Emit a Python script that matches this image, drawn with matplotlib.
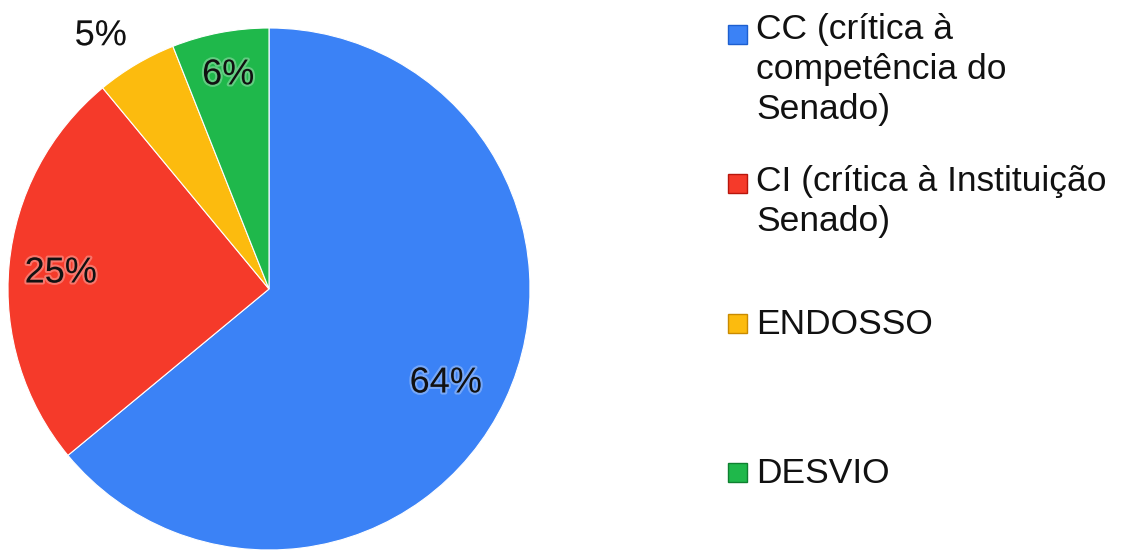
import matplotlib
matplotlib.use("Agg")
import numpy as np
import matplotlib.pyplot as plt
from matplotlib.patches import Rectangle
import matplotlib.patheffects as pe

plt.rcParams['font.family'] = ['Liberation Sans', 'DejaVu Sans']

#%% data
categorias = ['CC (crítica à\ncompetência do\nSenado)',
              'CI (crítica à Instituição\nSenado)',
              'ENDOSSO',
              'DESVIO']
valores = [64, 25, 5, 6]
cores = ['#3b82f6', '#f53a2a', '#fcbb0e', '#1fb84b']
bordas = ['#1d5fd0', '#b8160c', '#c98a00', '#0f8030']

# % label placement: distance (fraction of radius) and angle nudge (deg)
dist_rotulo = [0.767, 0.80, 1.165, 0.835]
desvio_ang = [-2.8, 1.0, 3.0, 0.0]

H = 552
cx, cy, raio = 269, 289, 261

fig = plt.figure(figsize=(11.28, 5.52), dpi=100)
ax = fig.add_axes([0, 0, 1, 1])

fatias, _ = ax.pie(valores, colors=cores, startangle=90, counterclock=False,
                   center=(cx, H - cy), radius=raio,
                   wedgeprops=dict(edgecolor='white', linewidth=0.8))

# pie() resets the limits, so set them afterwards
ax.set_xlim(0, 1128)
ax.set_ylim(0, H)
ax.set_aspect('equal')
ax.axis('off')

halo = [pe.withStroke(linewidth=3, foreground='white', alpha=0.3)]
for w, v, d, da in zip(fatias, valores, dist_rotulo, desvio_ang):
    ang = np.deg2rad((w.theta1 + w.theta2) / 2 + da)
    x = cx + d * raio * np.cos(ang)
    y = H - cy + d * raio * np.sin(ang)
    ax.text(x, y, f"{v}%", ha='center', va='center', fontsize=26,
            color='#111111', path_effects=halo)

#%% legend
base_y = [45, 194, 334, 483]   # baseline of first line (px from top)
passo = 37                     # px between lines
for lab, c, b, yb in zip(categorias, cores, bordas, base_y):
    ax.add_patch(Rectangle((728, H - yb + 1), 19, 19, facecolor=c,
                           edgecolor=b, linewidth=1))
    # multi-line text: 'baseline' sits on the last line
    n = lab.count('\n')
    ax.text(756, H - yb - n * passo, lab, ha='left', va='baseline',
            fontsize=25.5, linespacing=1.26, color='#111111')

fig.savefig('out.png', dpi=100)
